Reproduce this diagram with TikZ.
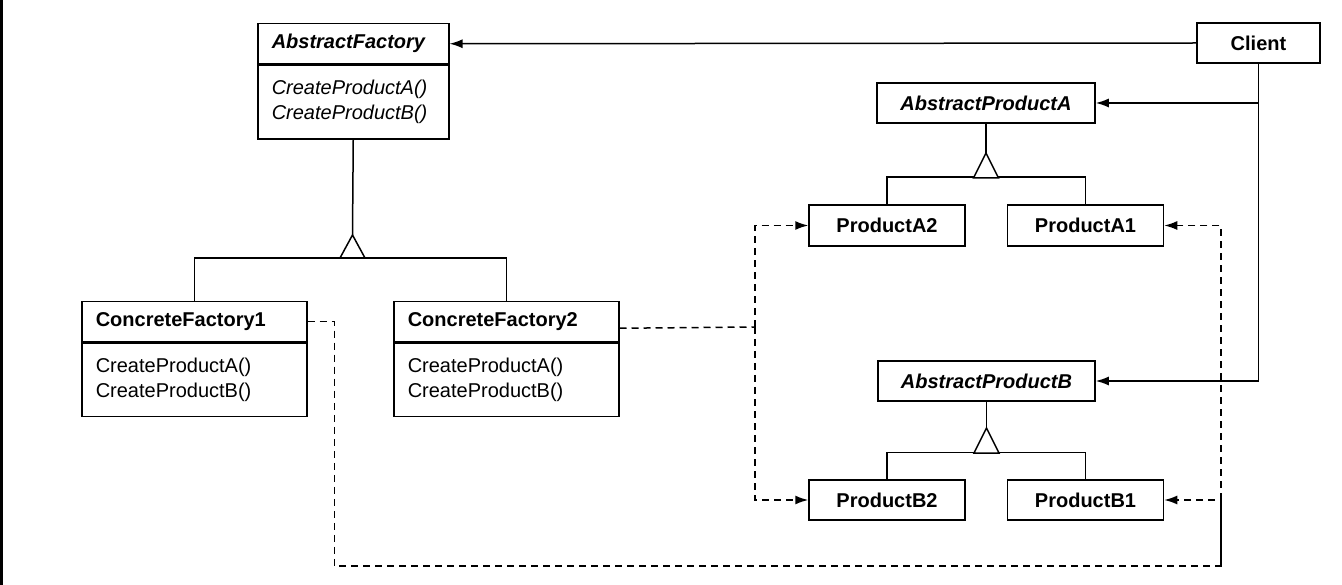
\documentclass[tikz,border=0pt]{standalone}
\usepackage{fontspec}
\setmainfont{Liberation Sans}
\usepackage{tikz}
\usetikzlibrary{positioning,arrows.meta}

\begin{document}
\begin{tikzpicture}[
  x=1pt, y=-1pt,
  uml/.style={draw, line width=1.5pt, font=\fontsize{20}{25}\selectfont},
  classname/.style={uml, minimum height=40pt, inner xsep=14pt, align=left, anchor=north west},
  methods/.style={uml, inner xsep=14pt, align=left},
  plainbox/.style={uml, minimum height=40pt, align=center},
  gen/.style={line width=1.5pt},
  assoc/.style={line width=1.5pt, -{Latex[length=13pt,width=9pt]}},
  dep/.style={assoc, dash pattern=on 7pt off 5pt}]
  \useasboundingbox (0,0) rectangle (1342,585);
  \draw[line width=3pt] (1.5,0) -- (1.5,585);

  \node[classname, text width=163pt] (af) at (257,23) {\textbf{\textit{AbstractFactory}}};
  \node[methods, text width=163pt, minimum height=74pt, below=0pt of af] (afm) {\textit{CreateProductA()}\\\textit{CreateProductB()}};
  \node[classname, text width=197pt] (cf1) at (81,301) {\textbf{ConcreteFactory1}};
  \node[methods, text width=197pt, minimum height=73pt, below=0pt of cf1] (cf1m) {CreateProductA()\\CreateProductB()};
  \node[classname, text width=197pt] (cf2) at (393,301) {\textbf{ConcreteFactory2}};
  \node[methods, text width=197pt, minimum height=73pt, below=0pt of cf2] (cf2m) {CreateProductA()\\CreateProductB()};

  \node[plainbox, minimum width=123pt] (client) at (1258.5,43) {\textbf{Client}};
  \node[plainbox, minimum width=218pt] (apa) at (986,103) {\textbf{\textit{AbstractProductA}}};
  \node[plainbox, minimum width=156pt, minimum height=41pt] (pa2) at (887,225.5) {\textbf{ProductA2}};
  \node[plainbox, minimum width=156pt, minimum height=41pt] (pa1) at (1085.5,225.5) {\textbf{ProductA1}};
  \node[plainbox, minimum width=217pt] (apb) at (986.5,381) {\textbf{\textit{AbstractProductB}}};
  \node[plainbox, minimum width=156pt] (pb2) at (887,500) {\textbf{ProductB2}};
  \node[plainbox, minimum width=156pt] (pb1) at (1085.5,500) {\textbf{ProductB1}};

  \coordinate (afapex) at (352.5,235);
  \coordinate (apaapex) at (986,153);
  \coordinate (apbapex) at (986.5,428);
  \draw[gen] (afm.south) -- (afapex);
  \draw[gen] (cf1.north) -- ++(0,-43) -| (cf2.north);
  \draw[gen, fill=white] (afapex) -- ++(-12.5,23) -- ++(25,0) -- cycle;
  \draw[gen] (apa.south) -- (apaapex);
  \draw[gen] (pa2.north) -- ++(0,-27) -| (pa1.north);
  \draw[gen, fill=white] (apaapex) -- ++(-12.5,25) -- ++(25,0) -- cycle;
  \draw[gen] (apb.south) -- (apbapex);
  \draw[gen] (pb2.north) -- ++(0,-27) -| (pb1.north);
  \draw[gen, fill=white] (apbapex) -- ++(-12.5,25) -- ++(25,0) -- cycle;

  \draw[assoc] (client.west) -- (af.east);
  \draw[assoc] (client.south) |- (apa.east);
  \draw[assoc] (client.south) |- (apb.east);

  \coordinate (dl) at (755,327);
  \coordinate (dr) at (1221,566);
  \draw[dep] (cf1.east) -- ++(27,0) |- (dr) |- (pa1.east);
  \draw[dep] (dr) |- (pb1.east);
  \draw[dash pattern=on 7pt off 5pt, line width=1.5pt] ([yshift=-6.5pt]cf2.east) -- (dl);
  \draw[dep] (dl) |- (pa2.west);
  \draw[dep] (dl) |- (pb2.west);
\end{tikzpicture}
\end{document}
